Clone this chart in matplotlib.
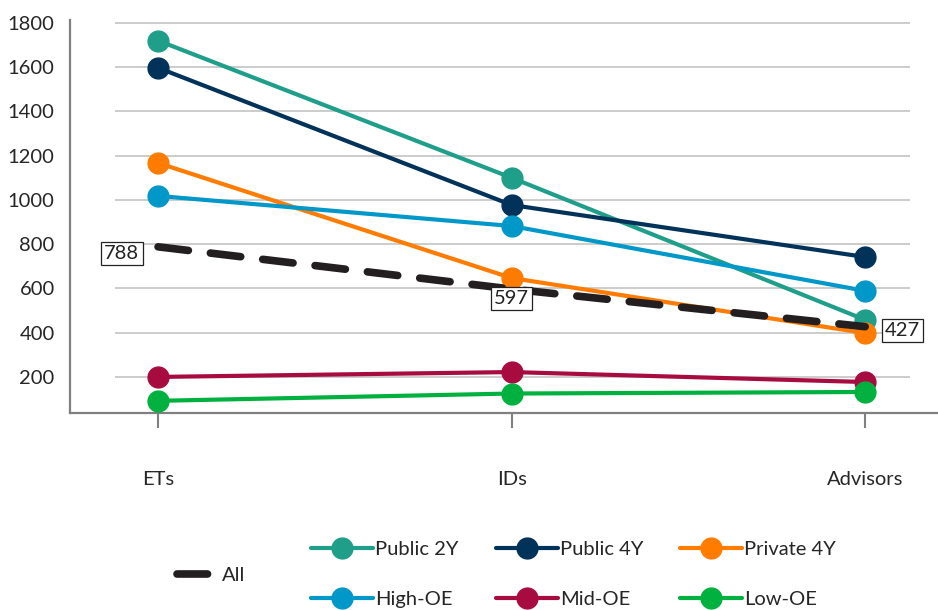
import matplotlib
matplotlib.use("Agg")
import matplotlib.pyplot as plt

categories = ["ETs", "IDs", "Advisors"]
public_2y = [1720, 1100, 458]
public_4y = [1597, 977, 742]
private_4y = [1167, 647, 398]
high_oe = [1018, 882, 589]
mid_oe = [200, 222, 177]
low_oe = [92, 125, 132]
all_vals = [788, 597, 427]
yticks = [200, 400, 600, 800, 1000, 1200, 1400, 1600, 1800]

series = [
    ("Public 2Y", public_2y, "#1F9E89"),
    ("Public 4Y", public_4y, "#01325A"),
    ("Private 4Y", private_4y, "#FF7C00"),
    ("High-OE", high_oe, "#0098C9"),
    ("Mid-OE", mid_oe, "#A80B40"),
    ("Low-OE", low_oe, "#00B140"),
]

FS = 14.5
plt.rcParams['font.family'] = ['Lato', 'DejaVu Sans']
fig = plt.figure(figsize=(9.38, 6.10), dpi=100)
ax = fig.add_axes([70/938, 1-413/610, 1-70/938, (413-20)/610])

x = list(range(len(categories)))
ax.set_xlim(-0.249, 2.206)
ax.set_ylim(37, 1813)

ax.hlines(yticks, -0.122, 2.127, color="#C8C8C8", lw=1.3, zorder=0)

handles = {}
for name, vals, col in series:
    h, = ax.plot(x, vals, color=col, lw=3, marker="o", markersize=15,
                 solid_capstyle="round", label=name, zorder=3)
    handles[name] = h

hall, = ax.plot(x, all_vals, color="#231F20", lw=5.5, dashes=(4.0, 2.9),
                dash_capstyle="round", label="All", zorder=4)

offsets = [(-26, -5), (0, -7), (27, -3)]
for xi, v, off in zip(x, all_vals, offsets):
    ax.annotate(str(v), (xi, v), xytext=off, textcoords="offset points",
                ha="center", va="center", fontsize=FS, color="#222222",
                bbox=dict(boxstyle="square,pad=0.15", fc="white", ec="#222222", lw=0.9),
                zorder=6)

for s in ["top", "right"]:
    ax.spines[s].set_visible(False)
for s in ["left", "bottom"]:
    ax.spines[s].set_color("#808080")
    ax.spines[s].set_linewidth(1.6)

ax.set_xticks(x)
ax.set_xticklabels(categories)
ax.set_yticks(yticks)
ax.tick_params(axis="x", length=11, width=1.5, color="#808080", pad=31,
               labelsize=FS, labelcolor="#262626")
ax.tick_params(axis="y", length=0, pad=11, labelsize=FS, labelcolor="#262626")

order = ["Public 2Y", "High-OE", "Public 4Y", "Mid-OE", "Private 4Y", "Low-OE"]
leg = fig.legend([handles[n] for n in order], order, ncol=3,
                 loc="upper left", bbox_to_anchor=(311/938, 1-541/610),
                 frameon=False, fontsize=FS, handlelength=3.08, handletextpad=0.1,
                 columnspacing=1.85, labelspacing=1.64, borderaxespad=0,
                 borderpad=0, labelcolor="#262626")
leg2 = fig.legend([hall], ["All"], loc="center left",
                  bbox_to_anchor=(177/938, 1-575/610), frameon=False, fontsize=FS,
                  handlelength=1.75, handletextpad=0.5, borderpad=0,
                  borderaxespad=0, labelcolor="#262626")

fig.savefig("out.png", dpi=100)
